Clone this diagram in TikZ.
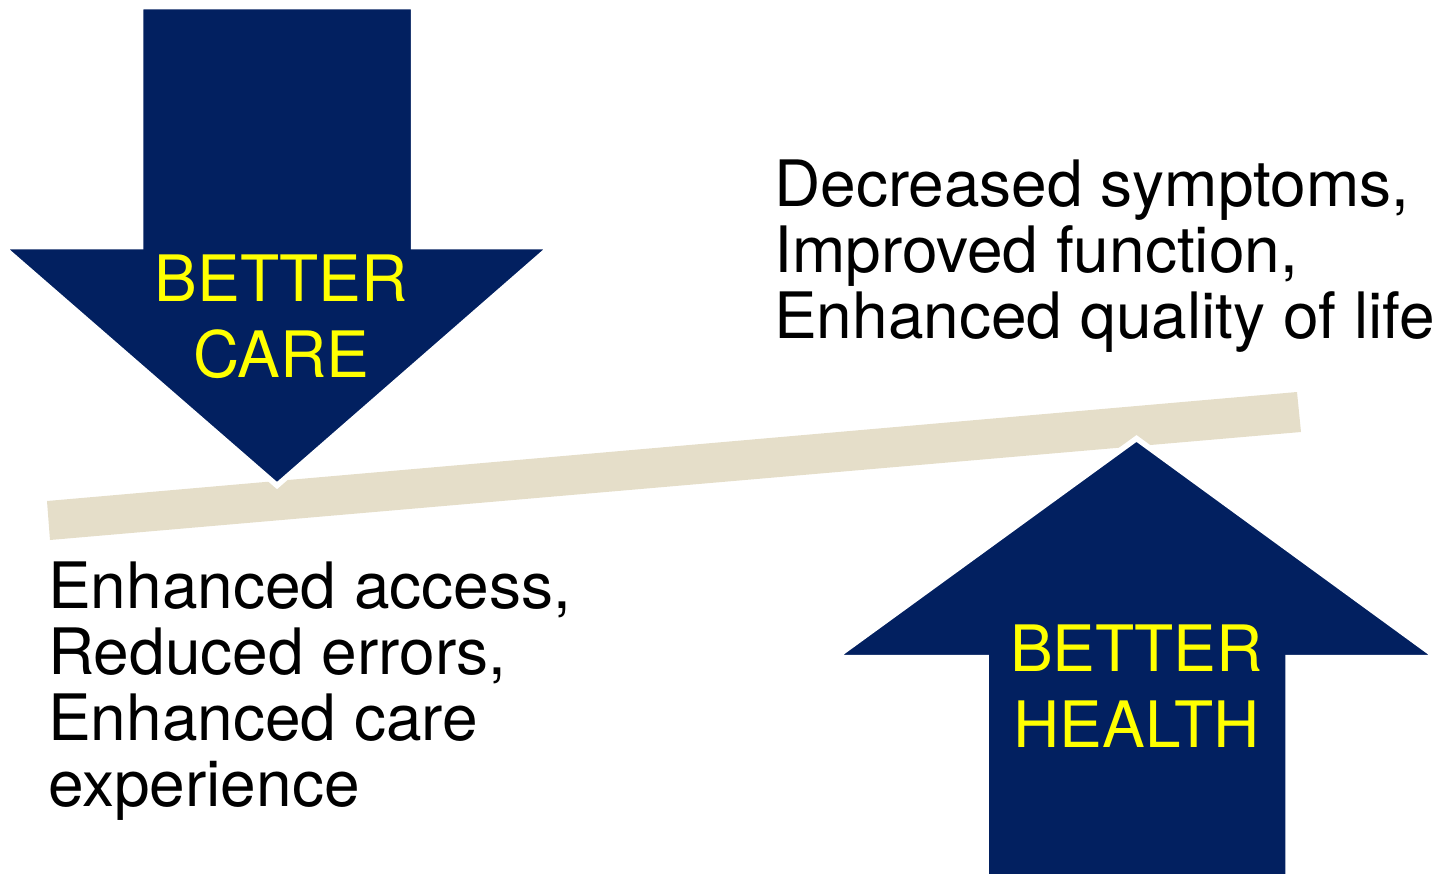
\documentclass[tikz,border=0pt]{standalone}
\usepackage{fontspec}
\setmainfont{TeX Gyre Heros}
\definecolor{navy}{HTML}{022060}
\definecolor{beamtan}{HTML}{E5DEC9}
\definecolor{labelyellow}{HTML}{FFFF00}
\begin{document}
\begin{tikzpicture}[x=1pt,y=-1pt,
  bigarrow/.style={fill=navy,draw=white,line width=5.5pt,miter limit=10,line join=miter},
  armlabel/.style={text=labelyellow,font=\fontsize{64}{76}\selectfont,align=center,inner sep=0pt},
  notes/.style={text=black,font=\fontsize{64}{66}\selectfont,align=left,inner sep=0pt}]
\useasboundingbox (0,0) rectangle (1443,873);

% tilted balance beam
\fill[beamtan] (47,501) -- (1297,392) -- (1301,432) -- (50,540) -- cycle;

% downward arrow: better care
\draw[bigarrow] (140.5,6.5) -- (413.5,6.5) -- (413.5,246.5) -- (551,246.5)
  -- (277,485.5) -- (2,246.5) -- (140.5,246.5) -- cycle;
% upward arrow: better health
\draw[bigarrow] (986,890) -- (986,657.5) -- (835,657.5) -- (1136.5,438.5)
  -- (1437,657.5) -- (1288,657.5) -- (1288,890) -- cycle;

\node[armlabel,anchor=base] (care) at (281,377) {BETTER\\CARE};
\node[armlabel,anchor=base] (health) at (1136.5,747) {BETTER\\HEALTH};

\node[notes,anchor=base west] (carenotes) at (48,806)
  {Enhanced access,\\Reduced errors,\\Enhanced care\\experience};
\node[notes,anchor=base west] (healthnotes) at (774,338)
  {Decreased symptoms,\\Improved function,\\Enhanced quality of life};
\end{tikzpicture}
\end{document}
